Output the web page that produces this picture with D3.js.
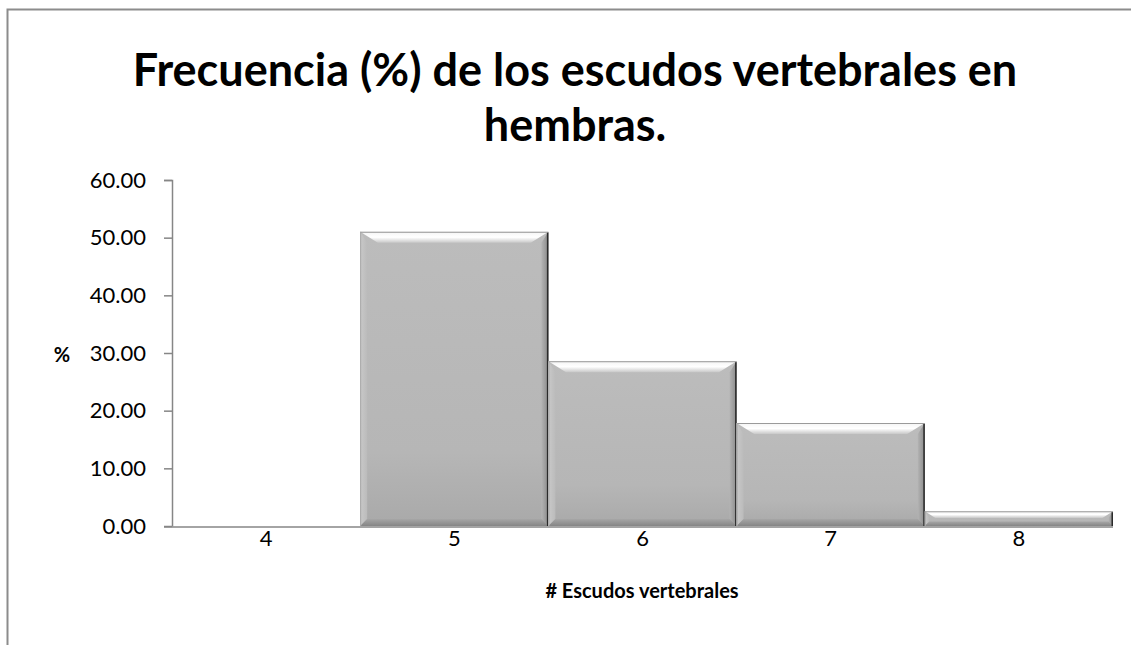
<!DOCTYPE html>
<html><head><meta charset="utf-8">
<script src="https://cdn.jsdelivr.net/npm/d3@7/dist/d3.min.js"></script>
<style>body{margin:0;background:#fff;} svg{display:block;}</style>
</head><body>
<svg id="c" width="1131" height="645"></svg>
<script>
const categories = ["4","5","6","7","8"];
const values = [0, 51.02, 28.57, 17.86, 2.55];
const yTicks = [0,10,20,30,40,50,60];
const titleLines = ["Frecuencia (%) de los escudos vertebrales en","hembras."];
const xTitle = "# Escudos vertebrales";
const yTitle = "%";

const svg = d3.select("#c");
const font = "Lato, 'Open Sans', sans-serif";
svg.append("rect").attr("x",7.5).attr("y",9.5).attr("width",1140).attr("height",660)
  .attr("fill","none").attr("stroke","#8c8c8c").attr("stroke-width",2);

const x = d3.scaleBand().domain(categories).range([172,1113]).padding(0);
const y = d3.scaleLinear().domain([0,60]).range([526,180]);

svg.selectAll("text.title").data(titleLines).enter().append("text")
  .attr("x",575).attr("y",(d,i)=>86+i*55).attr("text-anchor","middle")
  .attr("font-family",font).attr("font-weight","bold").attr("font-size",45).attr("fill","#000")
  .text(d=>d);

const defs = svg.append("defs");
const mk = (id, x1,y1,x2,y2, stops) => {
  const lg = defs.append("linearGradient").attr("id",id).attr("x1",x1).attr("y1",y1).attr("x2",x2).attr("y2",y2);
  stops.forEach(s=>lg.append("stop").attr("offset",s[0]).attr("stop-color",s[1]));
};
mk("body",0,0,0,1,[[0,"#bcbcbc"],[0.75,"#b6b6b6"],[1,"#a9a9a9"]]);
mk("topb",0,0,0,1,[[0,"#f4f4f4"],[0.5,"#ffffff"],[1,"#c8c8c8"]]);
mk("leftb",0,0,1,0,[[0,"#c9c9c9"],[1,"#bbbbbb"]]);
mk("rightb",0,0,1,0,[[0,"#b3b3b3"],[1,"#8a8a8a"]]);
mk("botb",0,0,0,1,[[0,"#a6a6a6"],[1,"#858585"]]);

const g = svg.append("g");
values.forEach((v,i)=>{
  if (v<=0) return;
  const x0 = x(categories[i]), x1 = x0 + x.bandwidth();
  const y0 = y(v), y1 = y(0);
  const h = y1-y0;
  const b = Math.min(11, h*0.45);
  const bs = Math.min(7, h*0.3);
  const bg = g.append("g");
  bg.append("rect").attr("x",x0).attr("y",y0).attr("width",x1-x0).attr("height",h).attr("fill","url(#body)");
  bg.append("polygon").attr("points",[[x0,y0],[x0+bs,y0+b],[x0+bs,y1-bs],[x0,y1]].join(" ")).attr("fill","url(#leftb)");
  bg.append("polygon").attr("points",[[x1,y0],[x1-bs,y0+b],[x1-bs,y1-bs],[x1,y1]].join(" ")).attr("fill","url(#rightb)");
  bg.append("polygon").attr("points",[[x0,y1],[x0+bs,y1-bs],[x1-bs,y1-bs],[x1,y1]].join(" ")).attr("fill","url(#botb)");
  bg.append("polygon").attr("points",[[x0,y0],[x1,y0],[x1-b*1.6,y0+b],[x0+b*1.6,y0+b]].join(" ")).attr("fill","url(#topb)");
  bg.append("line").attr("x1",x0).attr("x2",x1).attr("y1",y0+0.5).attr("y2",y0+0.5).attr("stroke","#9a9a9a").attr("stroke-width",1);
  bg.append("line").attr("x1",x0+0.5).attr("x2",x0+0.5).attr("y1",y0).attr("y2",y1).attr("stroke","#a8a8a8").attr("stroke-width",1);
  bg.append("line").attr("x1",x1-0.75).attr("x2",x1-0.75).attr("y1",y0+1).attr("y2",y1).attr("stroke","#2a2a2a").attr("stroke-width",1.5);
});

const ya = svg.append("g").attr("transform","translate(172,0)")
  .call(d3.axisLeft(y).tickValues(yTicks).tickFormat(d3.format(".2f")).tickSize(8).tickPadding(18));
ya.select(".domain").attr("stroke","#868686").attr("stroke-width",1.5).attr("d","M-8,180.5H0.5V526.5");
ya.selectAll(".tick line").attr("stroke","#868686").attr("stroke-width",1.5);
ya.selectAll(".tick text").attr("font-family",font).attr("font-size",22).attr("fill","#000");

const xa = svg.append("g").attr("transform","translate(0,527)")
  .call(d3.axisBottom(x).tickSize(0).tickPadding(0));
xa.select(".domain").attr("stroke","#868686").attr("stroke-width",1.5).attr("d","M164,0H1113");
xa.selectAll(".tick text").attr("font-family",font).attr("font-size",22).attr("fill","#000")
  .attr("dy",null).attr("y",19);

svg.append("text").attr("x",642).attr("y",598).attr("text-anchor","middle")
  .attr("font-family",font).attr("font-weight","bold").attr("font-size",20).text(xTitle);
svg.append("text").attr("x",62).attr("y",362).attr("text-anchor","middle")
  .attr("font-family",font).attr("font-weight","bold").attr("font-size",20).text(yTitle);
</script>
</body></html>
